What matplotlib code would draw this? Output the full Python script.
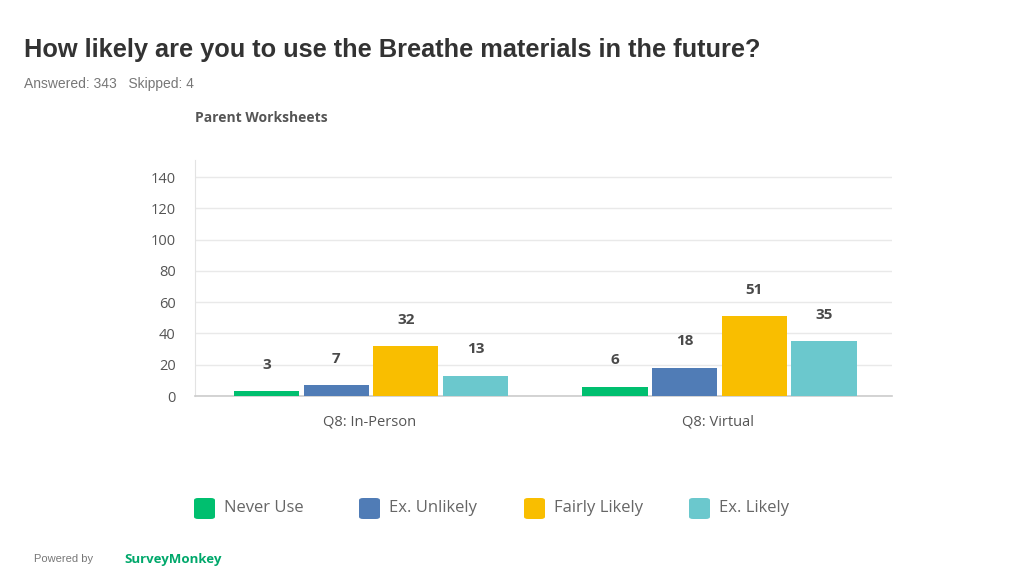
import matplotlib.pyplot as plt
import numpy as np
from matplotlib.patches import FancyBboxPatch

categories = ["Q8: In-Person", "Q8: Virtual"]
series_names = ["Never Use", "Ex. Unlikely", "Fairly Likely", "Ex. Likely"]
series_values = [
    [3, 6],
    [7, 18],
    [32, 51],
    [13, 35],
]
colors = ["#00BF6F", "#507CB6", "#F9BE00", "#6BC8CD"]
yticks = [0, 20, 40, 60, 80, 100, 120, 140]

CHART_FONT = ["Open Sans", "DejaVu Sans"]
W, H = 1024, 576

fig = plt.figure(figsize=(10.24, 5.76), dpi=100)
ax = fig.add_axes([0.1904, 0.3125, 0.6807, 0.4097])

x = np.arange(len(categories))
step = 0.2
width = 0.187
for i, (name, vals) in enumerate(zip(series_names, series_values)):
    offs = (i - 1.5) * step + 0.005
    ax.bar(x + offs, vals, width=width, color=colors[i], zorder=3, label=name)
    for xi, v in zip(x, vals):
        ax.annotate(str(v), (xi + offs, v), xytext=(0, 19), textcoords="offset points",
                    ha="center", va="center", fontsize=11, fontweight="bold",
                    color="#4a4a4a", family=CHART_FONT)

ax.set_xlim(-0.5, 1.5)
ax.set_ylim(0, 151)
ax.set_yticks(yticks)
ax.set_xticks(x)
ax.set_xticklabels(categories, family=CHART_FONT, fontsize=10.5, color="#555555")
for lab in ax.get_yticklabels():
    lab.set_family(CHART_FONT)
ax.tick_params(axis="y", length=0, pad=14, labelsize=10.5, labelcolor="#555555")
ax.tick_params(axis="x", length=0, pad=13)
ax.grid(axis="y", color="#e9e9e9", linewidth=1, zorder=0)
for s in ["top", "right"]:
    ax.spines[s].set_visible(False)
ax.spines["left"].set_color("#e3e3e3")
ax.spines["bottom"].set_color("#cccccc")
ax.spines["bottom"].set_linewidth(1.2)

fig.text(24 / W, 1 - 50 / H, "How likely are you to use the Breathe materials in the future?",
         fontsize=18.3, fontweight="bold", color="#333333", family="Liberation Sans",
         va="center")
fig.text(24 / W, 1 - 84 / H, "Answered: 343   Skipped: 4", fontsize=10, color="#777777",
         family="Liberation Sans", va="center")
fig.text(195 / W, 1 - 118 / H, "Parent Worksheets", fontsize=10, fontweight="bold",
         color="#555555", family=CHART_FONT, va="center")

# legend drawn as fixed-width slots
for i, (c, n) in enumerate(zip(colors, series_names)):
    x0 = 194 + i * 165
    fig.add_artist(FancyBboxPatch((x0 / W, 1 - 519 / H), 21 / W, 21 / H,
                                  boxstyle="round,pad=0,rounding_size=0.004",
                                  facecolor=c, edgecolor="none", transform=fig.transFigure))
    fig.text((x0 + 30) / W, 1 - 508 / H, n, fontsize=12, color="#666666",
             family=CHART_FONT, va="center")

fig.text(34 / W, 1 - 559 / H, "Powered by", fontsize=8, color="#777777",
         family="Liberation Sans", va="center")
fig.text(124 / W, 1 - 559 / H, "SurveyMonkey", fontsize=9.5, fontweight="bold",
         color="#00A86B", family=CHART_FONT, va="center")

fig.savefig("out.png", dpi=100)
